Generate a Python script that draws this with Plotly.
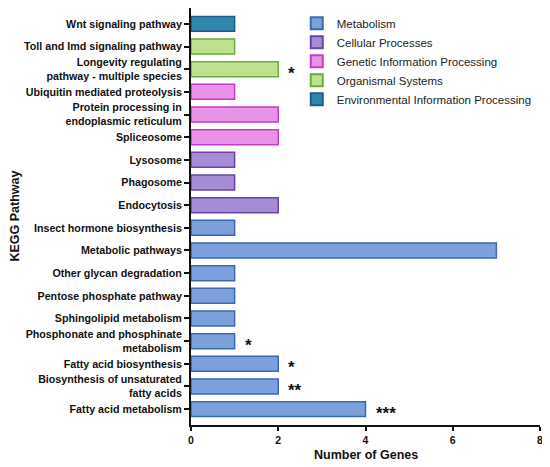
import plotly.graph_objects as go

pathways = [
    "Wnt signaling pathway",
    "Toll and Imd signaling pathway",
    "Longevity regulating<br>pathway - multiple species",
    "Ubiquitin mediated proteolysis",
    "Protein processing in<br>endoplasmic reticulum",
    "Spliceosome",
    "Lysosome",
    "Phagosome",
    "Endocytosis",
    "Insect hormone biosynthesis",
    "Metabolic pathways",
    "Other glycan degradation",
    "Pentose phosphate pathway",
    "Sphingolipid metabolism",
    "Phosphonate and phosphinate<br>metabolism",
    "Fatty acid biosynthesis",
    "Biosynthesis of unsaturated<br>fatty acids",
    "Fatty acid metabolism",
]
genes = [1, 1, 2, 1, 2, 2, 1, 1, 2, 1, 7, 1, 1, 1, 1, 2, 2, 4]
groups = [
    "Environmental Information Processing",
    "Organismal Systems", "Organismal Systems",
    "Genetic Information Processing", "Genetic Information Processing", "Genetic Information Processing",
    "Cellular Processes", "Cellular Processes", "Cellular Processes",
    "Metabolism", "Metabolism", "Metabolism", "Metabolism", "Metabolism",
    "Metabolism", "Metabolism", "Metabolism", "Metabolism",
]
stars = ["", "", "*", "", "", "", "", "", "", "", "", "", "", "", "*", "*", "**", "***"]
x_ticks = [0, 2, 4, 6, 8]

group_order = ["Metabolism", "Cellular Processes", "Genetic Information Processing",
               "Organismal Systems", "Environmental Information Processing"]
fills = {
    "Metabolism": "#7ba0db",
    "Cellular Processes": "#a68bd5",
    "Genetic Information Processing": "#ea92e8",
    "Organismal Systems": "#bee08f",
    "Environmental Information Processing": "#2f87ae",
}
edges = {
    "Metabolism": "#3d68b3",
    "Cellular Processes": "#6a45a8",
    "Genetic Information Processing": "#c23fc2",
    "Organismal Systems": "#6aac3c",
    "Environmental Information Processing": "#1d5f82",
}

fig = go.Figure()
for g in group_order:
    ys = [p for p, gg in zip(pathways, groups) if gg == g]
    xs = [v for v, gg in zip(genes, groups) if gg == g]
    fig.add_trace(go.Bar(
        x=xs, y=ys, orientation="h", name=g, width=0.66,
        marker=dict(color=fills[g], line=dict(color=edges[g], width=1.5)),
    ))

for p, v, s in zip(pathways, genes, stars):
    if s:
        fig.add_annotation(x=v, y=p, xref="x", yref="y", text="<b>" + s + "</b>", showarrow=False,
                           xanchor="left", xshift=8, yshift=-4,
                           font=dict(family="Liberation Sans", size=17, color="#111"))

fig.add_annotation(text="<b>Number of Genes</b>", xref="paper", yref="paper", x=0.5, y=0,
                   yshift=-30, xanchor="center", yanchor="middle", showarrow=False,
                   font=dict(family="Liberation Sans", size=12.5, color="#111"))
fig.add_annotation(text="<b>KEGG Pathway</b>", xref="paper", yref="paper", x=0, y=0.5,
                   xshift=-177, xanchor="center", yanchor="middle", showarrow=False, textangle=-90,
                   font=dict(family="Liberation Sans", size=12.5, color="#111"))

fig.update_layout(
    width=542, height=459,
    margin=dict(l=183, r=10, t=0, b=42, autoexpand=False),
    plot_bgcolor="white", paper_bgcolor="white",
    barmode="overlay",
    font=dict(family="Liberation Sans", color="#111"),
    showlegend=True,
    legend=dict(x=0.303, y=0.998, xanchor="left", yanchor="top",
                font=dict(family="Liberation Sans", size=11.5, color="#222"),
                bgcolor="rgba(0,0,0,0)", tracegroupgap=0, itemsizing="constant"),
    xaxis=dict(range=[0, 8], tickvals=x_ticks, showgrid=False, zeroline=False, automargin=False,
               showline=True, linecolor="#111", linewidth=2,
               ticks="outside", ticklen=4, tickwidth=1.5, tickcolor="#111",
               tickfont=dict(family="Liberation Sans", size=10.5, color="#111", weight="bold")),
    yaxis=dict(type="category", categoryorder="array", categoryarray=pathways, automargin=False,
               range=[17.7, -0.7], showgrid=False, zeroline=False,
               showline=True, linecolor="#111", linewidth=2,
               ticks="outside", ticklen=5, tickwidth=1.5, tickcolor="#111",
               tickfont=dict(family="Liberation Sans", size=10.7, color="#111", weight="bold")),
)

fig.write_html("out.html")
